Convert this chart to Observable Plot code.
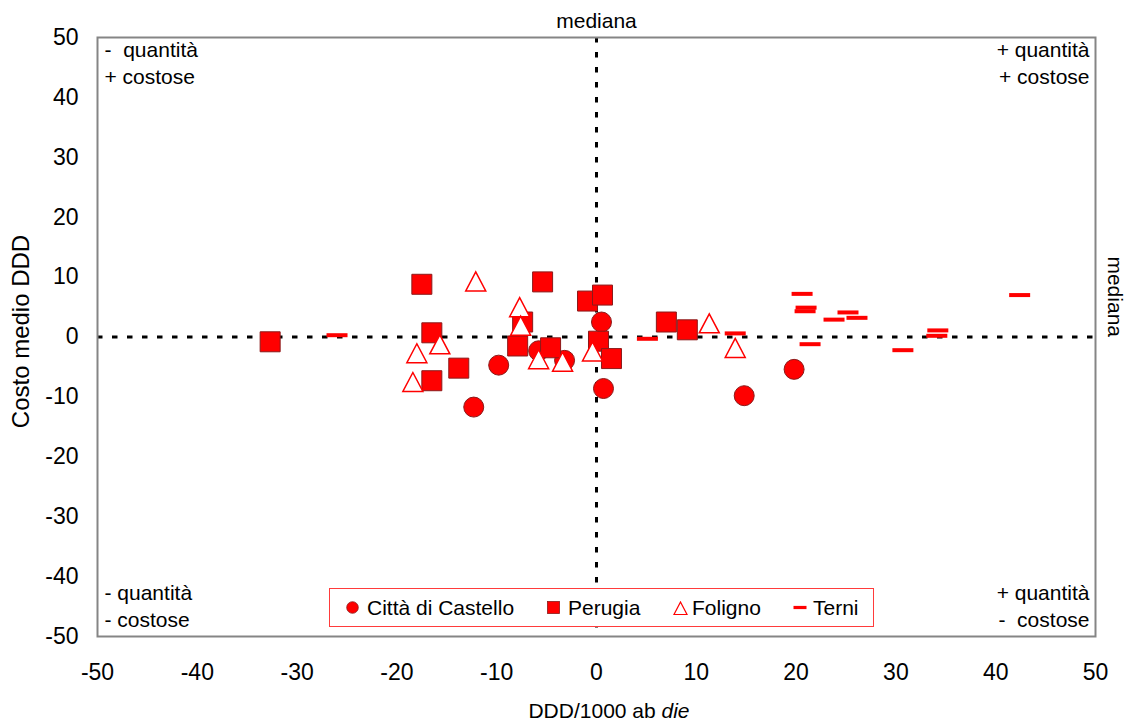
<!DOCTYPE html>
<html>
<head>
<meta charset="utf-8">
<script src="https://cdn.jsdelivr.net/npm/d3@7"></script>
<script src="https://cdn.jsdelivr.net/npm/@observablehq/plot@0.6"></script>
<style>
  html, body { margin: 0; padding: 0; background: white; }
  #wrap { position: relative; width: 1127px; height: 725px; font-family: "Liberation Sans", Arial, sans-serif; }
  svg text { white-space: pre; }
  #legend { position: absolute; left: 329px; top: 588px; width: 545px; height: 39px; box-sizing: border-box;
            border: 1px solid #ff3b3b; background: white; font-size: 21px; color: #000; }
  #legend .it { position: absolute; top: 0; height: 37px; display: flex; align-items: center; white-space: pre; }
  #legend svg { position: absolute; top: 12px; }
</style>
</head>
<body>
<div id="wrap"></div>
<script>
// ---- data ----
const xTicks = [-50, -40, -30, -20, -10, 0, 10, 20, 30, 40, 50];
const yTicks = [-50, -40, -30, -20, -10, 0, 10, 20, 30, 40, 50];
const seriesNames = ["Città di Castello", "Perugia", "Foligno", "Terni"];

const castelloX = [-12.3, -9.8, -5.8, -3.2, 0.5, 0.7, 14.8, 19.8];
const castelloY = [-11.7, -4.7, -2.3, -3.9, 2.5, -8.6, -9.8, -5.4];

const perugiaX = [-32.7, -17.5, -16.5, -16.5, -13.8, -7.4, -7.9, -5.4, -4.6, -0.9, 0.6, 0.2, 1.5, 7.0, 9.1];
const perugiaY = [-0.8, 8.8, 0.7, -7.3, -5.2, 2.5, -1.5, 9.2, -1.8, 6.0, 7.0, -0.7, -3.6, 2.5, 1.2];

const folignoX = [-18.4, -18.0, -15.7, -12.1, -7.7, -7.6, -5.8, -3.4, -0.4, 11.3, 13.9];
const folignoY = [-7.6, -2.8, -1.3, 9.2, 4.9, 1.8, -3.8, -4.2, -2.5, 2.2, -1.9];

const terniX = [-26.0, 5.1, 13.9, 20.6, 21.0, 20.9, 21.4, 23.8, 25.2, 26.1, 30.7, 34.2, 34.1, 42.4];
const terniY = [0.3, -0.3, 0.6, 7.2, 4.9, 4.3, -1.2, 2.9, 4.1, 3.2, -2.2, 1.1, 0.2, 7.0];

const medianX = [0];
const medianY = [0];
const medianLabel = "mediana";
const quadrantTL = ["-  quantità", "+ costose"];
const quadrantTR = ["+ quantità", "+ costose"];
const quadrantBL = ["- quantità", "- costose"];
const quadrantBR = ["+ quantità", "-  costose"];
const xLabelMain = "DDD/1000 ab ";
const xLabelItalic = "die";
const yLabel = "Costo medio DDD";

// ---- tables ----
const zip = (xs, ys) => xs.map((x, i) => ({x, y: ys[i]}));
const castello = zip(castelloX, castelloY);
const perugia = zip(perugiaX, perugiaY);
const foligno = zip(folignoX, folignoY);
const terni = zip(terniX, terniY);

// ---- custom marker shapes ----
const squareSym = {draw(c) { c.rect(-10, -10, 20, 20); }};
const triSym = {draw(c) { c.moveTo(0, -10); c.lineTo(10, 9); c.lineTo(-10, 9); c.closePath(); }};
const dashSym = {draw(c) { c.rect(-10.5, -2, 21, 4); }};

const RED = "#ff0000";
const EDGE = "#8b1a1a";
const FS = 21;
const TICK_FS = 23;

const txt = (data, o) => Plot.text(data, {lineAnchor: "middle", fontSize: FS, ...o});

const chart = Plot.plot({
  width: 1127,
  height: 725,
  marginLeft: 97,
  marginRight: 32,
  marginTop: 37,
  marginBottom: 89,
  style: {fontFamily: "'Liberation Sans', Arial, sans-serif", fontSize: FS + "px", color: "#000", background: "white"},
  x: {domain: [-50, 50]},
  y: {domain: [-50, 50]},
  marks: [
    Plot.axisX({ticks: xTicks, tickSize: 0, tickPadding: 27, tickFormat: d => String(d), label: null, fontSize: TICK_FS}),
    Plot.axisY({ticks: yTicks, tickSize: 0, tickPadding: 19, tickFormat: d => String(d), label: null, fontSize: TICK_FS}),
    Plot.ruleY(medianY, {y: d => d, stroke: "black", strokeWidth: 3, strokeDasharray: "5.5,9.5"}),
    Plot.ruleX(medianX, {x: d => d, stroke: "black", strokeWidth: 3, strokeDasharray: "5.5,9.5"}),
    Plot.frame({stroke: "#858585", strokeWidth: 2}),
    Plot.dot(castello, {x: "x", y: "y", r: 10, fill: RED, stroke: EDGE, strokeWidth: 1}),
    Plot.dot(perugia, {x: "x", y: "y", symbol: squareSym, r: 10, fill: RED, stroke: EDGE, strokeWidth: 1}),
    Plot.dot(foligno, {x: "x", y: "y", symbol: triSym, r: 10, fill: "white", stroke: RED, strokeWidth: 1.5}),
    Plot.dot(terni, {x: "x", y: "y", symbol: dashSym, r: 10, fill: RED, stroke: "none"}),
    // median labels
    txt(medianX, {x: d => d, frameAnchor: "top", text: () => medianLabel, dy: -16}),
    txt(medianY, {y: d => d, frameAnchor: "right", text: () => medianLabel, dx: 19, rotate: 90}),
    // quadrant labels
    txt([quadrantTL[0]], {frameAnchor: "top-left", text: d => d, dx: 7, dy: 13, textAnchor: "start"}),
    txt([quadrantTL[1]], {frameAnchor: "top-left", text: d => d, dx: 7, dy: 40, textAnchor: "start"}),
    txt([quadrantTR[0]], {frameAnchor: "top-right", text: d => d, dx: -6, dy: 13, textAnchor: "end"}),
    txt([quadrantTR[1]], {frameAnchor: "top-right", text: d => d, dx: -6, dy: 40, textAnchor: "end"}),
    txt([quadrantBL[0]], {frameAnchor: "bottom-left", text: d => d, dx: 7, dy: -43, textAnchor: "start"}),
    txt([quadrantBL[1]], {frameAnchor: "bottom-left", text: d => d, dx: 7, dy: -16, textAnchor: "start"}),
    txt([quadrantBR[0]], {frameAnchor: "bottom-right", text: d => d, dx: -6, dy: -43, textAnchor: "end"}),
    txt([quadrantBR[1]], {frameAnchor: "bottom-right", text: d => d, dx: -6, dy: -16, textAnchor: "end"})
  ]
});

const wrap = document.getElementById("wrap");
wrap.appendChild(chart);

// axis titles (x title has an italic part)
const svg = d3.select(chart);
const [rx0, rx1] = chart.scale("x").range;
const [ry0, ry1] = chart.scale("y").range;
const xt = svg.append("text")
  .attr("x", (rx0 + rx1) / 2 + 13).attr("y", 718)
  .attr("text-anchor", "middle").attr("font-size", FS).attr("fill", "black");
xt.append("tspan").text(xLabelMain);
xt.append("tspan").attr("font-style", "italic").text(xLabelItalic);
svg.append("text")
  .attr("transform", `translate(29,${(ry0 + ry1) / 2 - 5}) rotate(-90)`)
  .attr("text-anchor", "middle").attr("font-size", 24).attr("fill", "black")
  .text(yLabel);

// legend
const legend = document.createElement("div");
legend.id = "legend";
const markerSvgs = [
  `<svg width="13" height="13" viewBox="-6.5 -6.5 13 13"><circle r="5.8" fill="${RED}" stroke="${EDGE}" stroke-width="0.8"/></svg>`,
  `<svg width="13" height="13" viewBox="-6.5 -6.5 13 13"><rect x="-6" y="-6" width="12" height="12" fill="${RED}" stroke="${EDGE}" stroke-width="0.8"/></svg>`,
  `<svg width="15" height="15" viewBox="-7.5 -7.5 15 15"><path d="M0,-6.5L6.5,6L-6.5,6Z" fill="white" stroke="${RED}" stroke-width="1.2"/></svg>`,
  `<svg width="14" height="13" viewBox="-7 -6.5 14 13"><rect x="-6.5" y="-1.6" width="13" height="3.2" fill="${RED}"/></svg>`
];
const markerLeft = [23, 224, 350, 470];
const textLeft = [37, 238, 362, 483];
seriesNames.forEach((name, i) => {
  const m = document.createElement("div");
  m.innerHTML = markerSvgs[i];
  const s = m.firstChild;
  s.style.left = (markerLeft[i] - 7) + "px";
  legend.appendChild(s);
  const t = document.createElement("div");
  t.className = "it";
  t.style.left = textLeft[i] + "px";
  t.textContent = name;
  legend.appendChild(t);
});
wrap.appendChild(legend);
</script>
</body>
</html>
